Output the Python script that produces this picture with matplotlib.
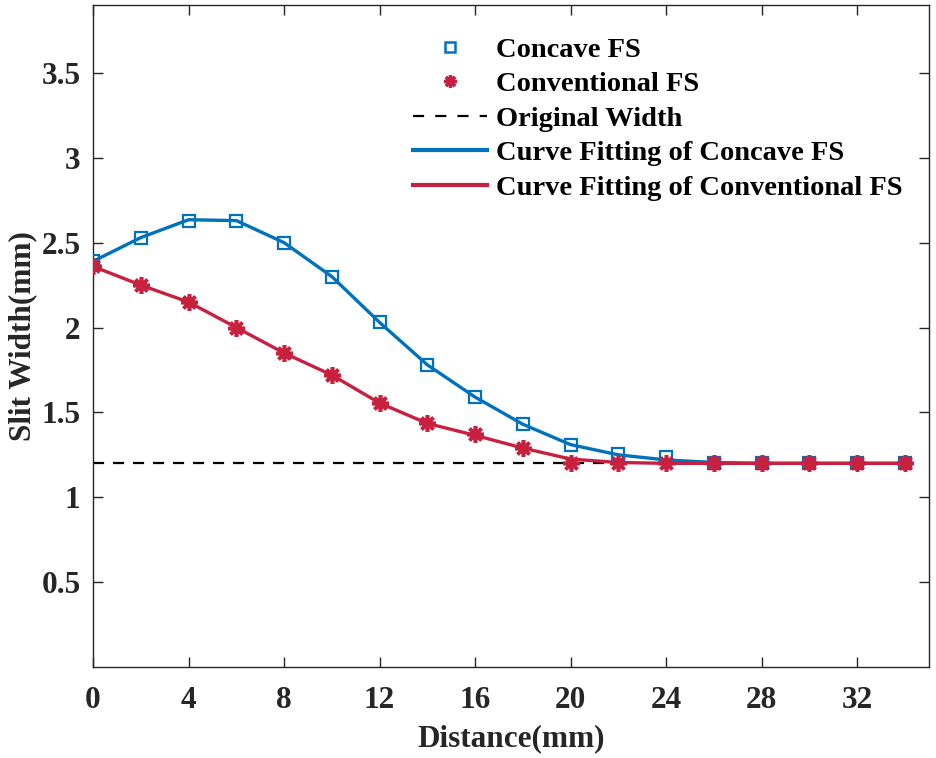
import numpy as np
import matplotlib
matplotlib.use("Agg")
import matplotlib.pyplot as plt

plt.rcParams['font.family'] = ['Liberation Serif', 'DejaVu Serif']
plt.rcParams['font.weight'] = 'bold'

# measured points
dist = [0, 2, 4, 6, 8, 10, 12, 14, 16, 18, 20, 22, 24, 26, 28, 30, 32, 34]
concave = [2.39, 2.53, 2.63, 2.625, 2.50, 2.30, 2.03, 1.78, 1.59, 1.43, 1.31, 1.255, 1.235,
           1.20, 1.20, 1.20, 1.20, 1.20]
conventional = [2.36, 2.25, 2.15, 2.00, 1.85, 1.72, 1.555, 1.435, 1.37, 1.29, 1.20, 1.20, 1.20,
                1.20, 1.20, 1.20, 1.20, 1.20]

# fitted curves
fit_concave = [2.39, 2.53, 2.635, 2.63, 2.50, 2.30, 2.03, 1.78, 1.59, 1.43, 1.31, 1.25, 1.22,
               1.205, 1.20, 1.20, 1.20, 1.20]
fit_conventional = [2.36, 2.25, 2.15, 2.00, 1.85, 1.72, 1.555, 1.435, 1.365, 1.29, 1.225, 1.205, 1.20,
                    1.20, 1.20, 1.20, 1.20, 1.20]

original_width = 1.2

blue = '#0072BD'
red = '#C8203F'

fig = plt.figure(figsize=(9.36, 7.58), dpi=100)
ax = fig.add_axes([0.0994, 0.12, 0.893, 0.8734])

ax.plot([0, 21.5], [original_width, original_width], '--', color='black', lw=1.6, dashes=(5, 4), zorder=2)
ax.plot(dist, fit_concave, color=blue, lw=2.4, zorder=3)
ax.plot(dist, fit_conventional, color=red, lw=2.4, zorder=3)
ax.plot(dist, concave, 's', ms=9, mfc='none', mec=blue, mew=1.6, zorder=4)
ax.plot(dist, conventional, marker=(8, 2, 0), ls='none', ms=12, mec=red, mew=2.6, zorder=4)

# legend proxies
h1, = ax.plot([], [], 's', ms=7, mfc='none', mec=blue, mew=1.8)
h2, = ax.plot([], [], marker=(8, 2, 0), ls='none', ms=9, mec=red, mew=2.4)
h3, = ax.plot([], [], '--', color='black', lw=1.6, dashes=(5, 5))
h4, = ax.plot([], [], color=blue, lw=3)
h5, = ax.plot([], [], color=red, lw=3)
ax.legend([h1, h2, h3, h4, h5],
          ['Concave FS', 'Conventional FS', 'Original Width',
           'Curve Fitting of Concave FS', 'Curve Fitting of Conventional FS'],
          loc='upper left', bbox_to_anchor=(0.383, 0.952), frameon=False,
          borderpad=0, borderaxespad=0,
          handlelength=2.6, handletextpad=0.3, labelspacing=0.3,
          prop={'weight': 'bold', 'size': 20.5})

ax.set_xlim(0, 35)
ax.set_ylim(0, 3.9)
ax.set_xticks([0, 4, 8, 12, 16, 20, 24, 28, 32])
ax.set_yticks([0.5, 1, 1.5, 2, 2.5, 3, 3.5])
ax.set_yticklabels(['0.5', '1', '1.5', '2', '2.5', '3', '3.5'])
ax.tick_params(direction='in', length=7, width=1, top=True, right=True,
               labelsize=22.5, colors='#262626')
ax.tick_params(axis='x', pad=14)
ax.tick_params(axis='y', pad=9)
for lab in ax.get_xticklabels() + ax.get_yticklabels():
    lab.set_fontweight('bold')
for s in ax.spines.values():
    s.set_color('#262626')
    s.set_linewidth(1)

ax.set_xlabel('Distance(mm)', fontsize=22.5, fontweight='bold', labelpad=6, color='#262626')
ax.set_ylabel('Slit Width(mm)', fontsize=22.5, fontweight='bold', labelpad=3, color='#262626')

fig.savefig('out.png', dpi=100)
